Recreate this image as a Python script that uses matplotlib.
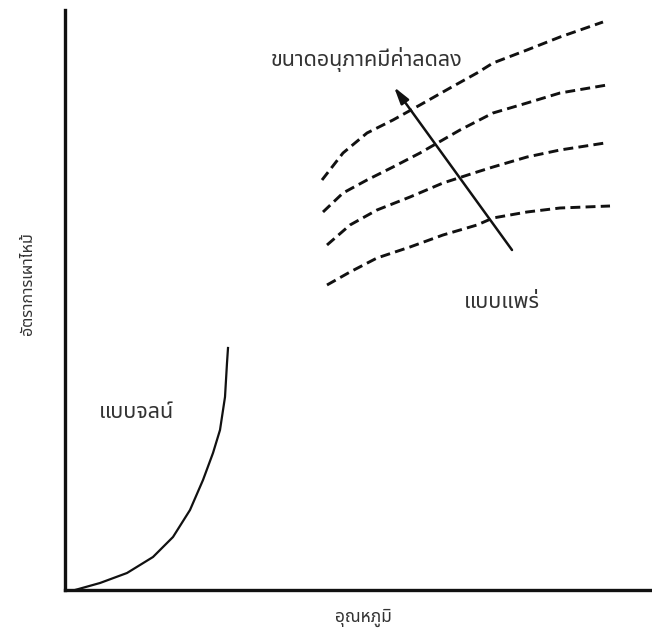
import matplotlib
matplotlib.use("Agg")
import matplotlib.pyplot as plt
from matplotlib import font_manager

# ---------------- data (pixel-like units) ----------------
diff_1_x = [257, 278, 302, 328, 355, 385, 412, 428, 462, 495, 538]
diff_1_y = [410, 437, 457, 470, 485, 502, 517, 527, 540, 553, 568]
diff_2_x = [258, 278, 302, 328, 355, 395, 428, 462, 495, 542]
diff_2_y = [378, 397, 410, 423, 437, 460, 477, 487, 497, 505]
diff_3_x = [262, 285, 312, 345, 378, 412, 428, 462, 495, 540]
diff_3_y = [345, 365, 380, 393, 407, 418, 423, 433, 440, 447]
diff_4_x = [262, 285, 312, 345, 378, 412, 428, 462, 495, 545]
diff_4_y = [305, 318, 332, 343, 355, 365, 372, 378, 382, 384]
kin_x = [10, 35, 62, 88, 108, 125, 138, 148, 155, 160, 162, 163]
kin_y = [0, 7, 17, 33, 53, 80, 110, 137, 160, 193, 227, 242]
arrow_tail = (447, 340)
arrow_head = (329, 503)

x_label = "อุณหภูมิ"
y_label = "อัตราการเผาไหม้"
label_size_trend = "ขนาดอนุภาคมีค่าลดลง"
label_diffusion = "แบบแพร่"
label_kinetic = "แบบจลน์"

# ---------------- font with Thai glyphs ----------------
def find_thai_family():
    preferred = ["Noto Sans Thai", "Noto Sans Thai UI", "Tahoma", "Leelawadee UI",
                 "Garuda", "Loma", "Waree", "Tlwg Typo", "Sawasdee", "Umpush",
                 "Kinnari", "Norasi", "FreeSans", "FreeSerif", "Noto Serif Thai"]
    names = {f.name for f in font_manager.fontManager.ttflist}
    for p in preferred:
        if p in names:
            return p
    try:
        from fontTools.ttLib import TTFont
        for f in font_manager.fontManager.ttflist:
            try:
                tt = TTFont(f.fname, fontNumber=0, lazy=True)
                cmap = tt.getBestCmap()
                if cmap and ord("ข") in cmap and ord("ภ") in cmap:
                    return f.name
            except Exception:
                continue
    except Exception:
        pass
    return None

thai = find_thai_family()
families = ([thai] if thai else []) + ["DejaVu Sans"]
plt.rcParams["font.family"] = families

# ---------------- figure ----------------
W, H = 652, 635
fig = plt.figure(figsize=(W / 100, H / 100), dpi=100)
left_px, bottom_px, top_px = 65, 590, 10
ax = fig.add_axes([left_px / W, (H - bottom_px) / H, (W - left_px) / W, (bottom_px - top_px) / H])
ax.set_xlim(0, W - left_px)
ax.set_ylim(0, bottom_px - top_px)
for s in ["top", "right"]:
    ax.spines[s].set_visible(False)
for s in ["left", "bottom"]:
    ax.spines[s].set_linewidth(2.4)
    ax.spines[s].set_color("#111111")
ax.set_xticks([])
ax.set_yticks([])
ax.patch.set_alpha(0)

dash = (0, (3.4, 1.8))
for xs, ys in [(diff_1_x, diff_1_y), (diff_2_x, diff_2_y),
               (diff_3_x, diff_3_y), (diff_4_x, diff_4_y)]:
    ax.plot(xs, ys, color="#111111", lw=2.1, linestyle=dash,
            dash_capstyle="butt", clip_on=False)

ax.plot(kin_x, kin_y, color="#111111", lw=1.6, clip_on=False,
        solid_joinstyle="round")

ax.annotate("", xy=arrow_head, xytext=arrow_tail,
            arrowprops=dict(arrowstyle="-|>,head_length=1.0,head_width=0.28",
                            color="#111111", lw=1.8, shrinkA=0, shrinkB=0))

tc = "#333333"
ax.text(302, 531, label_size_trend, fontsize=15.5, color=tc, ha="center", va="center")
ax.text(437, 287, label_diffusion, fontsize=15.5, color=tc, ha="center", va="center")
ax.text(71, 178, label_kinetic, fontsize=15.5, color=tc, ha="center", va="center")

fig.text(363 / W, 1 - 618 / H, x_label, fontsize=12.5, color=tc, ha="center", va="center")
fig.text(28 / W, 1 - 284 / H, y_label, fontsize=11.5, color=tc, ha="center", va="center",
         rotation=90)

fig.savefig("out.png", dpi=100, facecolor="white")
